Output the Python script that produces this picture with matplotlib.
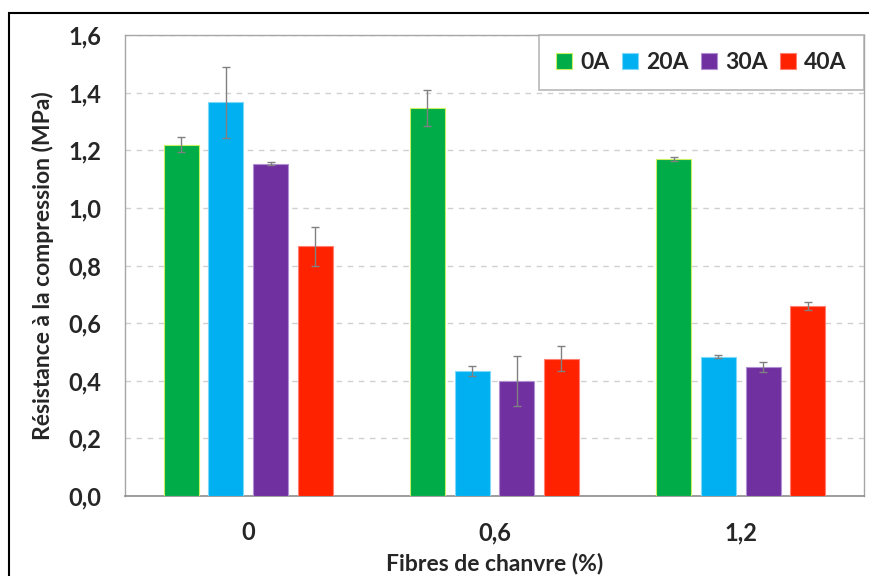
import numpy as np
import matplotlib.pyplot as plt
from matplotlib.patches import Rectangle

plt.rcParams['font.family'] = ['Lato', 'DejaVu Sans']
plt.rcParams['font.weight'] = 'bold'

# données
fibres = ['0', '0,6', '1,2']
series = ['0A', '20A', '30A', '40A']
vals_0A = [1.22, 1.346, 1.169]
vals_20A = [1.366, 0.434, 0.484]
vals_30A = [1.153, 0.399, 0.447]
vals_40A = [0.866, 0.476, 0.660]
err_0A = [0.025, 0.063, 0.006]
err_20A = [0.122, 0.018, 0.004]
err_30A = [0.005, 0.087, 0.018]
err_40A = [0.068, 0.043, 0.015]
yticks = [0.0, 0.2, 0.4, 0.6, 0.8, 1.0, 1.2, 1.4, 1.6]

couleurs = ['#00AC48', '#00B0F0', '#7030A0', '#FF2200']
bords = ['#C8F060', '#7FD8F8', '#B090D0', '#FF8070']

fig = plt.figure(figsize=(8.69, 5.76), dpi=100)
ax = fig.add_axes([0.1438, 0.1389, 0.8504, 0.8003])

x = np.arange(len(fibres))
offsets = [-0.272, -0.091, 0.091, 0.272]
largeur = 0.142
for vals, errs, nom, c, b, off in zip([vals_0A, vals_20A, vals_30A, vals_40A],
                                      [err_0A, err_20A, err_30A, err_40A],
                                      series, couleurs, bords, offsets):
    ax.bar(x + off, vals, largeur, color=c, edgecolor=b, linewidth=0.8, label=nom, zorder=3,
           yerr=errs, error_kw=dict(ecolor='#808080', elinewidth=1.0, capsize=3, capthick=1.0, zorder=4))

ax.set_xlim(-0.5, 2.5)
ax.set_ylim(0, 1.6)
ax.set_yticks(yticks)
ax.set_yticklabels([f'{v:.1f}'.replace('.', ',') for v in yticks], fontsize=17, fontweight='bold', color='#262626')
ax.set_xticks(x)
ax.set_xticklabels(fibres, fontsize=17, fontweight='bold', color='#262626')
ax.tick_params(axis='both', length=0)
ax.tick_params(axis='y', pad=17)
ax.tick_params(axis='x', pad=18)

ax.yaxis.grid(True, linestyle=(0, (4, 4)), color='#d0d0d0', linewidth=1.0, zorder=0)
for s in ['left', 'top', 'right']:
    ax.spines[s].set_color('#a6a6a6')
    ax.spines[s].set_linewidth(1.0)
ax.spines['bottom'].set_color('#8c8c8c')
ax.spines['bottom'].set_linewidth(1.2)

ax.set_ylabel('Résistance à la compression (MPa)', fontsize=16.5, fontweight='bold', color='#262626', labelpad=10)
ax.set_xlabel('Fibres de chanvre (%)', fontsize=16.5, fontweight='bold', color='#262626', labelpad=6)

leg = ax.legend(loc='upper right', ncol=4, fontsize=16.5, frameon=True, fancybox=False,
                handlelength=0.7, handleheight=0.7, handletextpad=0.35, columnspacing=0.55,
                borderaxespad=0.0, borderpad=0.75, edgecolor='#a6a6a6')
leg.get_frame().set_linewidth(1.2)
for t in leg.get_texts():
    t.set_color('#262626')
    t.set_fontweight('bold')

# cadre extérieur
fig.patches.append(Rectangle((9 / 869, -0.1), 1.2, 1 - 13 / 576 + 0.1, transform=fig.transFigure,
                             fill=False, edgecolor='black', linewidth=1.5))

fig.savefig('out.png', dpi=100)
